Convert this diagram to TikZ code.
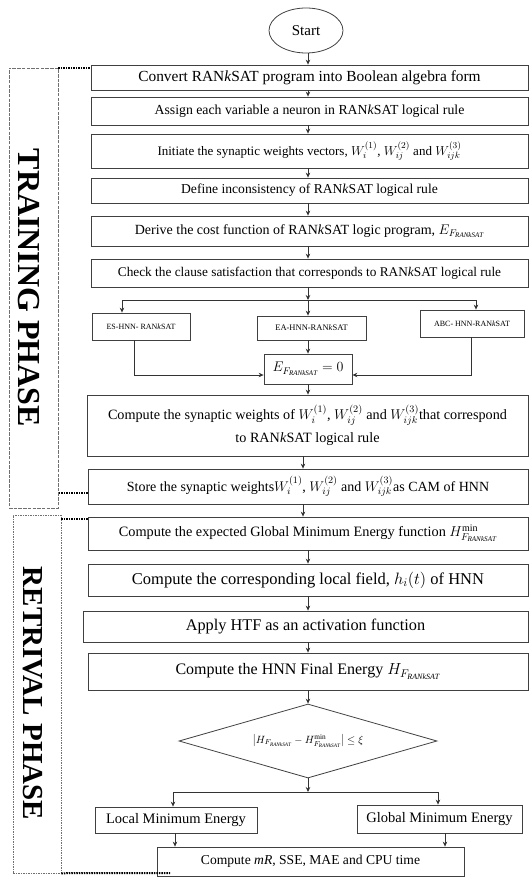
\RequirePackage{fix-cm}
\documentclass[tikz,border=0pt]{standalone}
\usepackage{fontspec}
\setmainfont{Liberation Serif}
\usetikzlibrary{arrows.meta,shapes.geometric}
\definecolor{linec}{HTML}{333333}
\definecolor{boxc}{HTML}{404040}
\definecolor{dashc}{HTML}{707070}
\tikzset{
 box/.style={draw=boxc, line width=0.8pt, inner sep=0pt, align=center, text=black},
 arr/.style={draw=linec, line width=0.7pt, -{Stealth[length=5pt,width=4.5pt]}},
 ln/.style={draw=linec, line width=0.7pt},
 phasea/.style={draw=dashc, line width=0.6pt, dash pattern=on 3.5pt off 1.2pt},
 phaseb/.style={draw=dashc, line width=0.5pt, dash pattern=on 1.5pt off 1pt},
 dotc/.style={draw=black, line width=2pt, dash pattern=on 1.5pt off 1pt},
}
\newcommand\RK{RAN\textit{k}SAT}
\newcommand\FR{F_{\mathit{RANkSAT}}}
\newcommand\fsz[2]{\fontsize{#1}{#2}\selectfont}
\begin{document}
\begin{tikzpicture}[x=1pt,y=-1pt]
\useasboundingbox (0,0) rectangle (530,877);
\coordinate (ax) at (308,0);
\coordinate (ax2) at (303,0);

\node[draw=boxc, line width=0.8pt, ellipse, minimum width=74pt, minimum height=45pt, inner sep=0pt, font=\fsz{15}{18}] (start) at (306,30.5) {Start};

\node[box, minimum width=437pt, minimum height=25pt, font=\fsz{15.4}{18}] (n1) at (309.5,77.5) {Convert \RK{} program into Boolean algebra form};
\node[box, minimum width=437pt, minimum height=28pt, font=\fsz{13.8}{16}] (n2) at (309.5,111) {Assign each variable a neuron in \RK{} logical rule};
\node[box, minimum width=437pt, minimum height=34pt, font=\fsz{13}{16}] (n3) at (309.5,151) {Initiate the synaptic weights vectors, $W_i^{(1)}$, $W_{ij}^{(2)}$ and $W_{ijk}^{(3)}$};
\node[box, minimum width=437pt, minimum height=25pt, font=\fsz{13.6}{16}] (n4) at (309.5,190.5) {Define inconsistency of \RK{} logical rule};
\node[box, minimum width=437pt, minimum height=30pt, font=\fsz{14}{16}] (n5) at (309.5,231) {Derive the cost function of \RK{} logic program, $E_{\FR}$};
\node[box, minimum width=437pt, minimum height=28pt, font=\fsz{13.3}{16}] (n6) at (309.5,273) {Check the clause satisfaction that corresponds to \RK{} logical rule};

\node[box, minimum width=98pt, minimum height=27pt, font=\fsz{8}{10}] (es) at (141,326.5) {ES-HNN- \RK};
\node[box, minimum width=109pt, minimum height=24pt, font=\fsz{8.5}{10}] (ea) at (311.5,328) {EA-HNN-\RK};
\node[box, minimum width=104pt, minimum height=27pt, font=\fsz{8}{10}] (abc) at (472,323.5) {ABC- HNN-\RK};
\node[box, minimum width=88pt, minimum height=30pt, font=\fsz{14}{16}] (e0) at (308,369) {$E_{\FR} = 0$};

\node[box, minimum width=441pt, minimum height=61pt, font=\fsz{14.2}{23}] (n7) at (307.5,425.5) {Compute the synaptic weights of $W_i^{(1)}$, $W_{ij}^{(2)}$ and $W_{ijk}^{(3)}$that correspond\\ to \RK{} logical rule};
\node[box, minimum width=440pt, minimum height=35pt, font=\fsz{14}{16}] (n8) at (308,486.5) {Store the synaptic weights$W_i^{(1)}$, $W_{ij}^{(2)}$ and $W_{ijk}^{(3)}$as CAM of HNN};

\node[box, minimum width=440pt, minimum height=33pt, font=\fsz{14.3}{16}] (r1) at (308,533.5) {Compute the expected Global Minimum Energy function $H^{\min}_{\FR}$};
\node[box, minimum width=440pt, minimum height=32pt, font=\fsz{16.5}{18}] (r2) at (308,580) {Compute the corresponding local field, $h_i(t)$ of HNN};
\node[box, minimum width=445pt, minimum height=31pt, font=\fsz{16.3}{18}] (r3) at (305.5,626.5) {Apply HTF as an activation function};
\node[box, minimum width=440pt, minimum height=37pt, font=\fsz{16}{18}] (r4) at (308,671.5) {Compute the HNN Final Energy $H_{\FR}$};

\node[draw=boxc, line width=0.8pt, diamond, aspect=3.5, minimum width=258pt, minimum height=74pt, inner sep=0pt, font=\fsz{10.5}{13}] (dm) at (308,741) {$\left|H_{\FR}-H^{\min}_{\FR}\right|\le\xi$};

\node[box, minimum width=162pt, minimum height=26pt, font=\fsz{14.5}{17}] (lm) at (176,820) {Local Minimum Energy};
\node[box, minimum width=165pt, minimum height=28pt, font=\fsz{14.5}{17}] (gm) at (439.5,819) {Global Minimum Energy};
\node[box, minimum width=307pt, minimum height=29pt, font=\fsz{13.6}{16}] (fin) at (310.5,861.5) {Compute \textit{mR}, SSE, MAE and CPU time};

% phases
\node[phasea, minimum width=49pt, minimum height=440pt, inner sep=0pt] (tp) at (33.5,288) {};
\node[rotate=-90, font=\fsz{32}{36}\bfseries] (tt) at (29,288) {TRAINING PHASE};
\node[phaseb, minimum width=48pt, minimum height=358pt, inner sep=0pt] (rp) at (37,694) {};
\node[rotate=-90, font=\fsz{29}{33}\bfseries] (rt) at (33,693.5) {RETRIVAL PHASE};

% connectors
\draw[arr] (start.south -| ax) -- (n1.north -| ax);
\draw[arr] (n1.south -| ax) -- (n2.north -| ax);
\draw[arr] (n2.south -| ax) -- (n3.north -| ax);
\draw[arr] (n3.south -| ax) -- (n4.north -| ax);
\draw[arr] (n4.south -| ax) -- (n5.north -| ax);
\draw[arr] (n5.south -| ax) -- (n6.north -| ax);
\coordinate (b1) at (308,300);
\coordinate (bl) at (122,300);
\coordinate (br) at (476,300);
\draw[arr] (n6.south -| ax) -- (b1);
\draw[ln] (bl) -- (br);
\draw[arr] (bl) -- (bl |- es.north);
\draw[arr] (b1) -- (b1 |- ea.north);
\draw[arr] (br) -- (br |- abc.north);
\draw[arr] (ea.south -| ax) -- (e0.north -| ax);
\coordinate (es1) at (134,0);
\coordinate (ab1) at (471,0);
\coordinate (e0l) at ([yshift=-6pt]e0.west);
\coordinate (e0r) at ([yshift=-6pt]e0.east);
\draw[arr] (es.south -| es1) |- (e0l);
\draw[arr] (abc.south -| ab1) |- (e0r);
\draw[arr] (e0.south -| ax) -- (n7.north -| ax);
\draw[arr] (n7.south -| ax2) -- (n8.north -| ax2);
\draw[arr] (n8.south -| ax2) -- (r1.north -| ax2);
\draw[arr] (r1.south -| ax) -- (r2.north -| ax);
\draw[arr] (r2.south -| ax) -- (r3.north -| ax);
\draw[arr] (r3.south -| ax) -- (r4.north -| ax);
\draw[arr] (r4.south -| ax) -- (dm.north);
\coordinate (b2) at (308,792);
\coordinate (b2l) at (173,792);
\coordinate (b2r) at (438,792);
\draw[arr] (dm.south) -- (b2);
\draw[ln] (b2l) -- (b2r);
\draw[arr] (b2l) -- (b2l |- lm.north);
\draw[arr] (b2r) -- (b2r |- gm.north);
\coordinate (lmx) at (175,0);
\coordinate (gmx) at (445,0);
\draw[arr] (lm.south -| lmx) -- (fin.north -| lmx);
\draw[arr] (gm.south -| gmx) -- (fin.north -| gmx);

% dotted links
\draw[dotc] (tp.north east) -- (tp.north east -| n1.west);
\coordinate (d2) at ([yshift=-6.5pt]n8.west);
\draw[dotc] (d2) -- (d2 -| tp.east);
\coordinate (d3) at ([yshift=-4pt]rp.north east);
\draw[dotc] (d3) -- (d3 -| r1.west);
\coordinate (d4) at (170,873);
\draw[dotc] (rp.south east) -- (d4);
\end{tikzpicture}
\end{document}
